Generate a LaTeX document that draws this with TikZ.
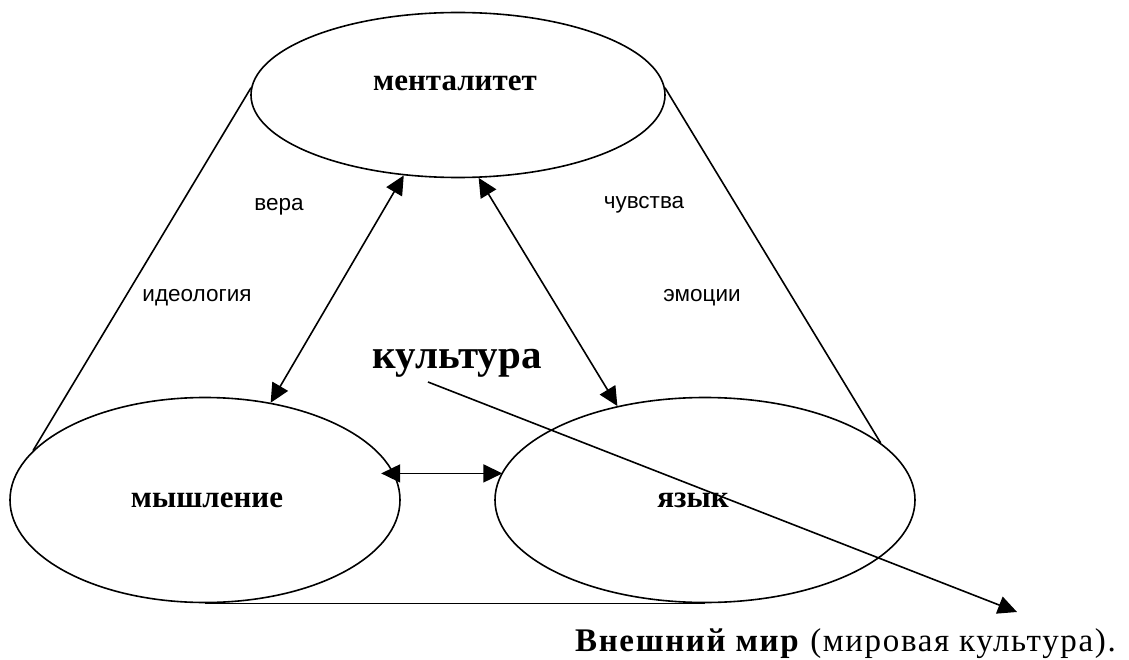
\documentclass[tikz,border=0pt]{standalone}
\usepackage{fontspec}
\setmainfont{Liberation Serif}
\newfontfamily\labelfont{Liberation Sans}
\newfontfamily\widefont[LetterSpace=5]{Liberation Serif}
\usetikzlibrary{shapes.geometric,arrows.meta}

\begin{document}
\begin{tikzpicture}[x=1pt,y=-1pt,
  oval/.style={ellipse,draw,line width=1.6pt,inner sep=0pt},
  conn/.style={line width=1.6pt},
  head/.tip={Triangle[length=19pt,width=18pt]},
  both/.style={conn,head-head},
  single/.style={conn,-head},
  title/.style={font=\fontsize{31}{36}\selectfont\bfseries,inner sep=0pt},
  small/.style={font=\labelfont\fontsize{22.5}{26}\selectfont,inner sep=0pt},
]
\useasboundingbox (0,0) rectangle (1129,660);

% the three ovals
\node[oval,minimum width=414pt,minimum height=165pt] (ment) at (458,95) {};
\node[oval,minimum width=390pt,minimum height=205pt] (myshl) at (205,500) {};
\node[oval,minimum width=420pt,minimum height=205pt] (yazyk) at (705,500) {};

\node[title] (mentT) at (455,83) {менталитет};
\node[title] (myshlT) at (207,500) {мышление};
\node[title] (yazykT) at (693,500) {язык};

% outline of the cone
\draw[conn] (ment.178) -- (myshl.164);
\draw[conn] (ment.2) -- (yazyk.18);
\draw[conn] (myshl.south) -- (yazyk.south);

% links between the ovals
\draw[both] (ment.236) -- (myshl.56);
\draw[both] (ment.284) -- (yazyk.133);
\draw[both,shorten <=-13pt] (myshl.8) -- (myshl.8 -| yazyk.172);

% side labels
\node[small] (vera) at (279,207) {вера};
\node[small] (ideol) at (197,298) {идеология};
\node[small] (chuv) at (644,205) {чувства};
\node[small] (emoc) at (702,298) {эмоции};

% culture and the outer world
\node[font=\fontsize{41}{48}\selectfont\bfseries,inner sep=0pt] (kult) at (457,363) {культура};
\coordinate (kstart) at (428,382);
\coordinate (wend) at (1017,612);
\draw[single] (kstart) -- (wend);
\node[anchor=base west,font=\widefont\fontsize{33}{40}\selectfont,inner sep=0pt] (mir) at (575,651) {\textbf{Внешний мир} (мировая культура).};
\end{tikzpicture}
\end{document}
